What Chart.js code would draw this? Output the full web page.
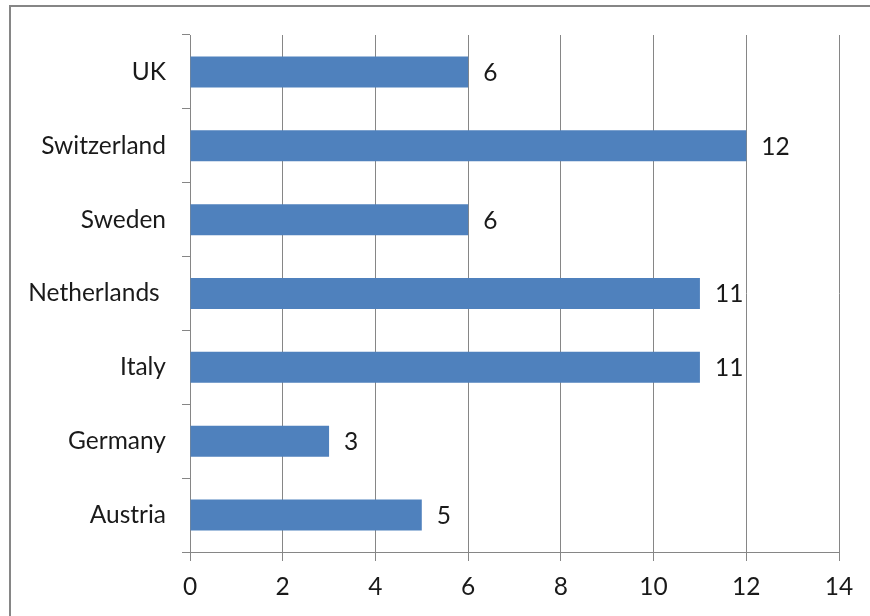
<!DOCTYPE html>
<html>
<head>
<meta charset="utf-8">
<script src="https://cdn.jsdelivr.net/npm/chart.js@4/dist/chart.umd.min.js"></script>
<style>
  html, body { margin: 0; padding: 0; background: #fff; }
  #wrap { width: 870px; height: 616px; position: relative; }
</style>
</head>
<body>
<div id="wrap"><canvas id="c" width="870" height="616"></canvas></div>
<script>
// Countries, top to bottom, and their counts
const countries = ["UK", "Switzerland", "Sweden", "Netherlands ", "Italy", "Germany", "Austria"];
const counts = [6, 12, 6, 11, 11, 3, 5];
const xTicks = [0, 2, 4, 6, 8, 10, 12, 14];

const FONT = "Lato, 'Open Sans', sans-serif";
const FONT_SIZE = 24.5;
const TEXT = "#1a1a1a";
const AXIS_GREY = "#868686";

// Value labels just past the end of each bar
const valueLabels = {
  id: "valueLabels",
  afterDatasetsDraw(chart) {
    const ctx = chart.ctx;
    const meta = chart.getDatasetMeta(0);
    ctx.save();
    ctx.font = FONT_SIZE + "px " + FONT;
    ctx.fillStyle = TEXT;
    ctx.textAlign = "left";
    ctx.textBaseline = "middle";
    meta.data.forEach((bar, i) => {
      ctx.fillText(String(counts[i]), bar.x + 15, bar.y + 1);
    });
    ctx.restore();
  }
};

// Outer frame of the chart
const frame = {
  id: "frame",
  beforeDraw(chart) {
    const ctx = chart.ctx;
    ctx.save();
    ctx.fillStyle = "#fff";
    ctx.fillRect(0, 0, chart.width, chart.height);
    ctx.strokeStyle = AXIS_GREY;
    ctx.lineWidth = 2;
    ctx.strokeRect(10, 6, chart.width + 20, chart.height + 20);
    ctx.restore();
  }
};

new Chart(document.getElementById("c"), {
  type: "bar",
  data: {
    labels: countries,
    datasets: [{
      data: counts,
      backgroundColor: "#4F81BD",
      borderWidth: 0,
      categoryPercentage: 0.42,
      barPercentage: 1.0
    }]
  },
  options: {
    indexAxis: "y",
    responsive: false,
    animation: false,
    devicePixelRatio: 1,
    layout: { padding: { top: 35, right: 31, left: 0, bottom: 0 } },
    plugins: { legend: { display: false }, tooltip: { enabled: false } },
    scales: {
      x: {
        min: 0,
        max: 14,
        afterBuildTicks(scale) { scale.ticks = xTicks.map(v => ({ value: v })); },
        afterFit(scale) { scale.height = 64; },
        grid: { color: AXIS_GREY, lineWidth: 1, tickLength: 9, drawTicks: true },
        border: { color: AXIS_GREY, width: 1 },
        ticks: { font: { family: FONT, size: FONT_SIZE }, color: TEXT, padding: 11 }
      },
      y: {
        afterFit(scale) { scale.width = 190; },
        grid: { offset: true, drawOnChartArea: false, color: AXIS_GREY, tickLength: 8 },
        border: { color: AXIS_GREY, width: 1 },
        ticks: { font: { family: FONT, size: FONT_SIZE }, color: TEXT, padding: 16 }
      }
    }
  },
  plugins: [frame, valueLabels]
});
</script>
</body>
</html>
